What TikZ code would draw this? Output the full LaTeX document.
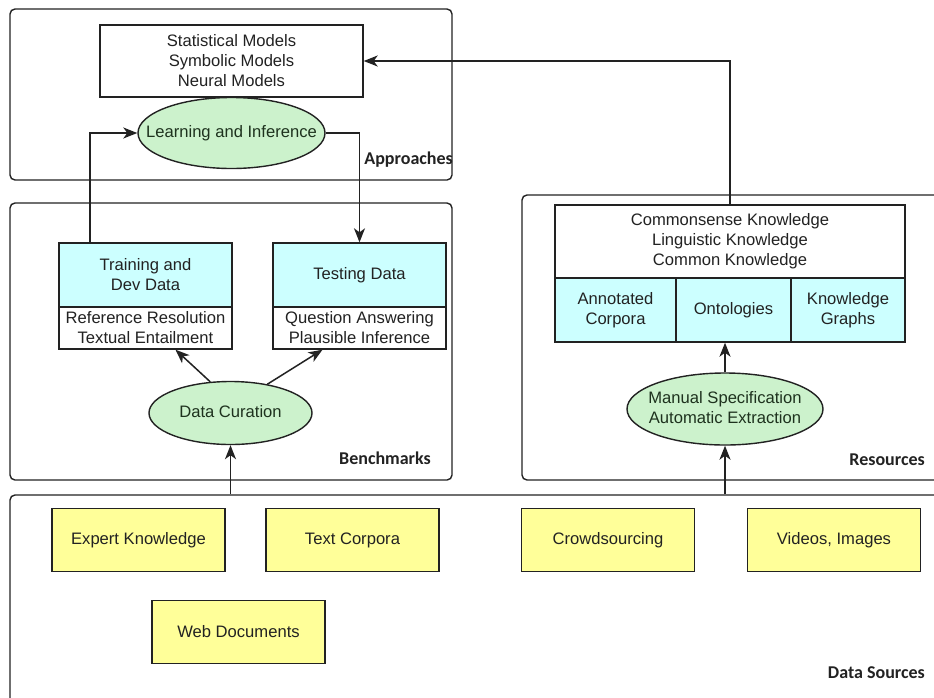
\documentclass[tikz,border=0pt]{standalone}
\usepackage{fontspec}
\setmainfont{Liberation Sans}
\newfontfamily\labelfont{Carlito}
\usetikzlibrary{shapes.geometric,arrows.meta,calc}
\definecolor{cellcyan}{HTML}{CCFFFF}
\definecolor{ovalgreen}{HTML}{CCF2CC}
\definecolor{ovalink}{HTML}{1E321E}
\definecolor{srcyellow}{HTML}{FFFF99}
\definecolor{ink}{HTML}{222222}
% zero-width text block, so that an ellipse keeps its given size
\newcommand{\ovaltext}[1]{\makebox[0pt][c]{\begin{tabular}{@{}c@{}}#1\end{tabular}}}

\begin{document}
\begin{tikzpicture}[x=1pt,y=-1pt,
  font=\fontsize{16.6}{20}\selectfont,
  frame/.style={draw=ink,line width=1.4pt,rounded corners=5pt,inner sep=0pt},
  box/.style={draw=ink,line width=1.4pt,inner sep=0pt,align=center,text=ink},
  cell/.style={box,fill=cellcyan},
  oval/.style={box,ellipse,fill=ovalgreen,text=ovalink},
  source/.style={box,fill=srcyellow,minimum width=173pt,minimum height=63pt},
  grouplabel/.style={anchor=east,inner sep=0pt,text=ink,font=\labelfont\bfseries\fontsize{18}{20}\selectfont},
  arr/.style={draw=ink,line width=1.5pt,-{Stealth[length=14pt,width=11pt,inset=4pt]}}
]
\useasboundingbox (0,0) rectangle (934,697);
\clip (0,0) rectangle (934,697);
\fill[white] (0,0) rectangle (934,697);

% group frames
\node[frame,minimum width=442pt,minimum height=171pt] (approaches) at (231,94.5) {};
\node[frame,minimum width=442pt,minimum height=277pt] (benchmarks) at (231,341.5) {};
\node[frame,minimum width=423pt,minimum height=285pt] (resources) at (733.5,337.5) {};
\node[frame,minimum width=937pt,minimum height=215pt] (datasources) at (478.5,602.5) {};

\node[grouplabel] (lblA) at (453,160) {Approaches};
\node[grouplabel] (lblB) at (431,458) {Benchmarks};
\node[grouplabel] (lblR) at (925,460) {Resources};
\node[grouplabel] (lblD) at (925,673) {Data Sources};

% approaches
\node[box,fill=white,minimum width=263pt,minimum height=72pt] (models) at (231.5,61)
  {Statistical Models\\Symbolic Models\\Neural Models};
\node[oval,minimum width=187pt,minimum height=71pt] (learn) at (231.5,133)
  {\ovaltext{Learning and Inference}};

% benchmarks
\node[cell,minimum width=173pt,minimum height=64pt] (traintop) at (145.5,275) {Training and\\Dev Data};
\node[box,fill=white,minimum width=173pt,minimum height=42pt] (trainbot) at (145.5,328)
  {Reference Resolution\\Textual Entailment};
\node[cell,minimum width=173pt,minimum height=64pt] (testtop) at (359.5,275) {Testing Data};
\node[box,fill=white,minimum width=173pt,minimum height=42pt] (testbot) at (359.5,328)
  {Question Answering\\Plausible Inference};
\node[oval,minimum width=163pt,minimum height=63pt] (curation) at (230.5,413)
  {\ovaltext{Data Curation}};

% resources
\node[box,fill=white,minimum width=350pt,minimum height=73pt] (knowledge) at (730,241.5)
  {Commonsense Knowledge\\Linguistic Knowledge\\Common Knowledge};
\node[cell,minimum width=121pt,minimum height=64pt] (annot) at (615.5,310) {Annotated\\Corpora};
\node[cell,minimum width=115pt,minimum height=64pt] (onto) at (733.5,310) {Ontologies};
\node[cell,minimum width=114pt,minimum height=64pt] (kgraph) at (848,310) {Knowledge\\Graphs};
\node[oval,minimum width=196pt,minimum height=72pt] (manual) at (725,409)
  {\ovaltext{Manual Specification\\Automatic Extraction}};

% data sources
\node[source] (expert) at (138.5,540) {Expert Knowledge};
\node[source] (corpora) at (352.5,540) {Text Corpora};
\node[source] (crowd) at (608,540) {Crowdsourcing};
\node[source] (videos) at (834,540) {Videos, Images};
\node[source] (web) at (238.5,632) {Web Documents};

% connectors
\coordinate (trainrise) at (90,0);
\draw[arr] (traintop.north -| trainrise) |- (learn.west);
\draw[arr] (learn.east) -| (testtop.north);
\draw[arr] (knowledge.north) |- (models.east);
\draw[arr] (curation.123) -- ($(trainbot.south)+(30,0)$);
\draw[arr] (curation.38) -- ($(testbot.south)+(-37,0)$);
\draw[arr] (datasources.north -| curation.south) -- (curation.south);
\draw[arr] (datasources.north -| manual.south) -- (manual.south);
\draw[arr] (manual.north) -- (manual.north |- onto.south);
\end{tikzpicture}
\end{document}
